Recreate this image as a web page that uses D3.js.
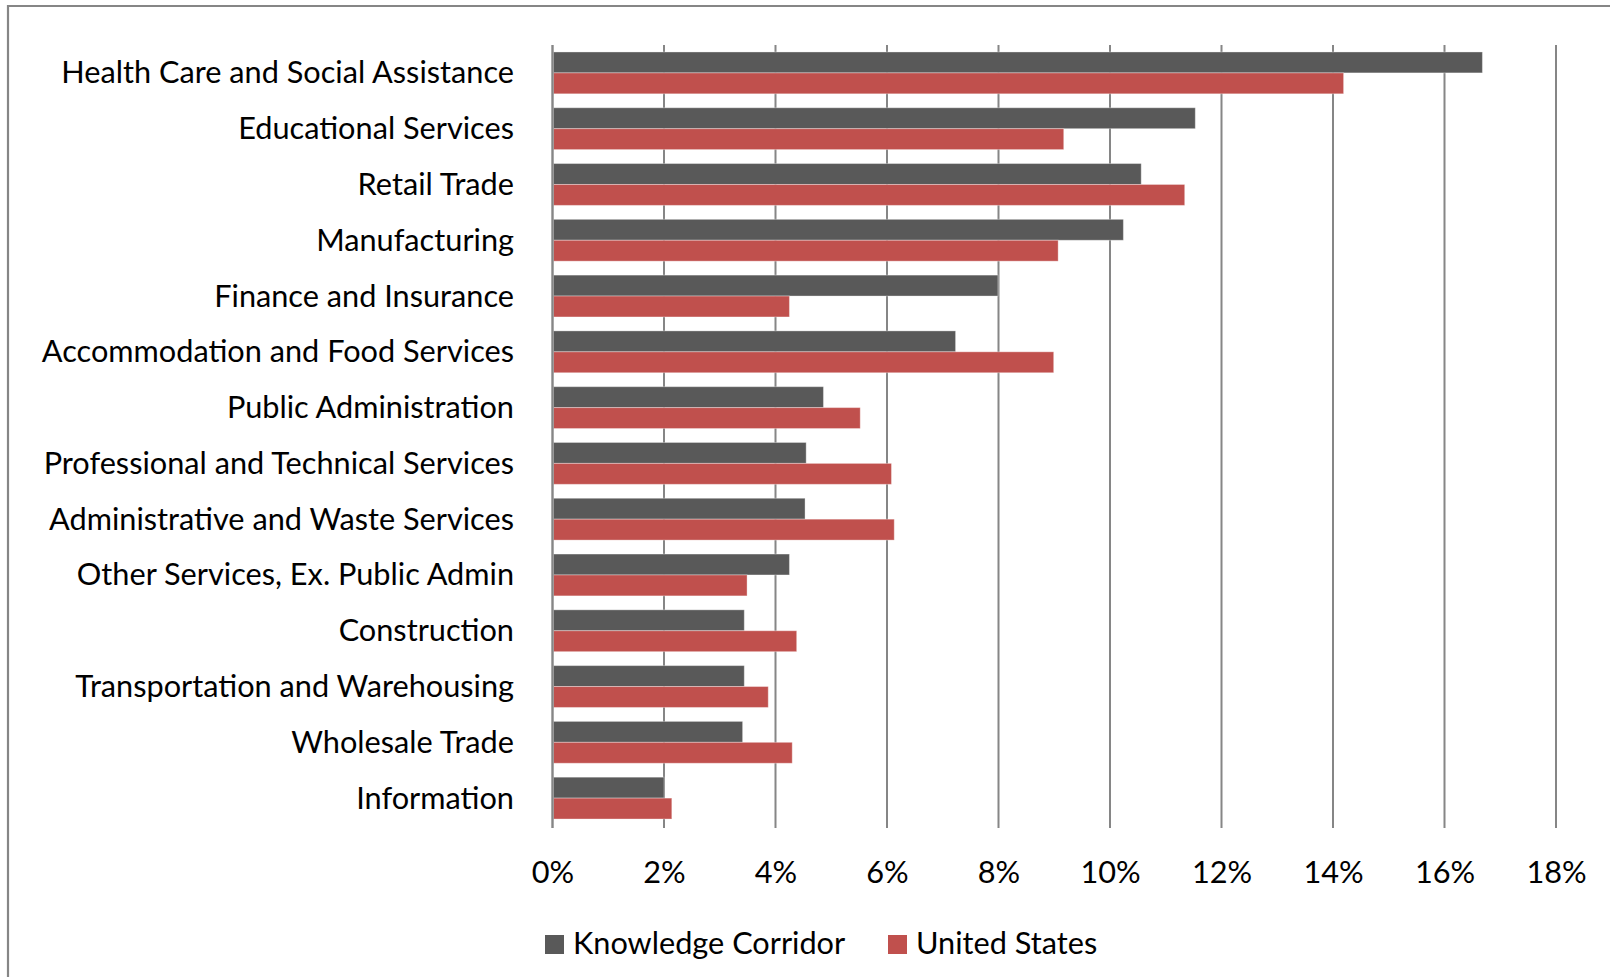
<!DOCTYPE html>
<html>
<head>
<meta charset="utf-8">
<script src="https://cdn.jsdelivr.net/npm/d3@7"></script>
<style>
  html, body { margin: 0; padding: 0; background: #fff; }
  svg { display: block; }
  text { font-family: Lato, "Open Sans", sans-serif; fill: #000; }
</style>
</head>
<body>
<svg id="chart" width="1610" height="977"></svg>
<script>
// Share of employment by industry (%), ordered by Knowledge Corridor share
const industries = [
  "Health Care and Social Assistance",
  "Educational Services",
  "Retail Trade",
  "Manufacturing",
  "Finance and Insurance",
  "Accommodation and Food Services",
  "Public Administration",
  "Professional and Technical Services",
  "Administrative and Waste Services",
  "Other Services, Ex. Public Admin",
  "Construction",
  "Transportation and Warehousing",
  "Wholesale Trade",
  "Information"
];
const knowledgeCorridor = [16.68, 11.53, 10.56, 10.24, 7.99, 7.23, 4.86, 4.55, 4.53, 4.25, 3.44, 3.44, 3.41, 2.00];
const unitedStates      = [14.19, 9.17, 11.34, 9.07, 4.25, 8.99, 5.52, 6.08, 6.13, 3.49, 4.38, 3.87, 4.30, 2.14];
const seriesNames = ["Knowledge Corridor", "United States"];
const seriesColors = ["#595959", "#C0504D"];
const tickValues = [0, 2, 4, 6, 8, 10, 12, 14, 16, 18];

const rows = industries.map((name, i) => ({
  name,
  values: [knowledgeCorridor[i], unitedStates[i]]
}));

const svg = d3.select("#chart");
const plot = { left: 552.5, right: 1556, top: 45, bottom: 826 };
const fontSize = 30.7;

// Outer chart frame (left and top edges visible)
svg.append("path")
  .attr("d", "M8,977 L8,6 L1610,6")
  .attr("fill", "none")
  .attr("stroke", "#868686")
  .attr("stroke-width", 2.2);

const x = d3.scaleLinear().domain([0, 18]).range([plot.left, plot.right]);
const y = d3.scaleBand().domain(industries).range([plot.top, plot.bottom]).paddingInner(0.25).paddingOuter(0.125);
const ySub = d3.scaleBand().domain([0, 1]).range([0, y.bandwidth()]);

// Vertical gridlines
svg.append("g")
  .selectAll("line")
  .data(tickValues.slice(1))
  .join("line")
  .attr("x1", d => x(d)).attr("x2", d => x(d))
  .attr("y1", plot.top).attr("y2", plot.bottom + 2)
  .attr("stroke", "#868686")
  .attr("stroke-width", 2);

// Bars
const groups = svg.append("g")
  .selectAll("g")
  .data(rows)
  .join("g")
  .attr("transform", d => `translate(0,${y(d.name)})`);

groups.selectAll("rect")
  .data(d => d.values.map((v, k) => ({ v, k })))
  .join("rect")
  .attr("x", x(0) + 1)
  .attr("y", d => ySub(d.k))
  .attr("width", d => x(d.v) - x(0) - 1)
  .attr("height", ySub.bandwidth())
  .attr("fill", d => seriesColors[d.k])
  .attr("stroke", "rgba(255,255,255,0.35)")
  .attr("stroke-width", 1);

// Category axis line
svg.append("line")
  .attr("x1", plot.left).attr("x2", plot.left)
  .attr("y1", plot.top).attr("y2", plot.bottom + 2)
  .attr("stroke", "#868686")
  .attr("stroke-width", 2.4);

// Category labels
svg.append("g")
  .selectAll("text")
  .data(industries)
  .join("text")
  .attr("x", 514)
  .attr("y", d => y(d) + y.bandwidth() / 2 + 10.5)
  .attr("text-anchor", "end")
  .attr("font-size", fontSize)
  .text(d => d);

// Value axis tick labels
const xAxis = d3.axisBottom(x)
  .tickValues(tickValues)
  .tickFormat(d => d + "%")
  .tickSize(0)
  .tickPadding(0);
const axisG = svg.append("g")
  .attr("transform", `translate(0,${plot.bottom})`)
  .call(xAxis);
axisG.select(".domain").remove();
axisG.selectAll("text")
  .attr("font-family", "Lato, 'Open Sans', sans-serif")
  .attr("font-size", fontSize)
  .attr("fill", "#000")
  .attr("dy", null)
  .attr("y", 57);

// Legend
const legendItems = [
  { swatchX: 545, textX: 573 },
  { swatchX: 888, textX: 916 }
];
const legend = svg.append("g");
seriesNames.forEach((name, k) => {
  legend.append("rect")
    .attr("x", legendItems[k].swatchX)
    .attr("y", 935)
    .attr("width", 19)
    .attr("height", 19)
    .attr("fill", seriesColors[k]);
  legend.append("text")
    .attr("x", legendItems[k].textX)
    .attr("y", 954)
    .attr("font-size", fontSize)
    .text(name);
});
</script>
</body>
</html>
